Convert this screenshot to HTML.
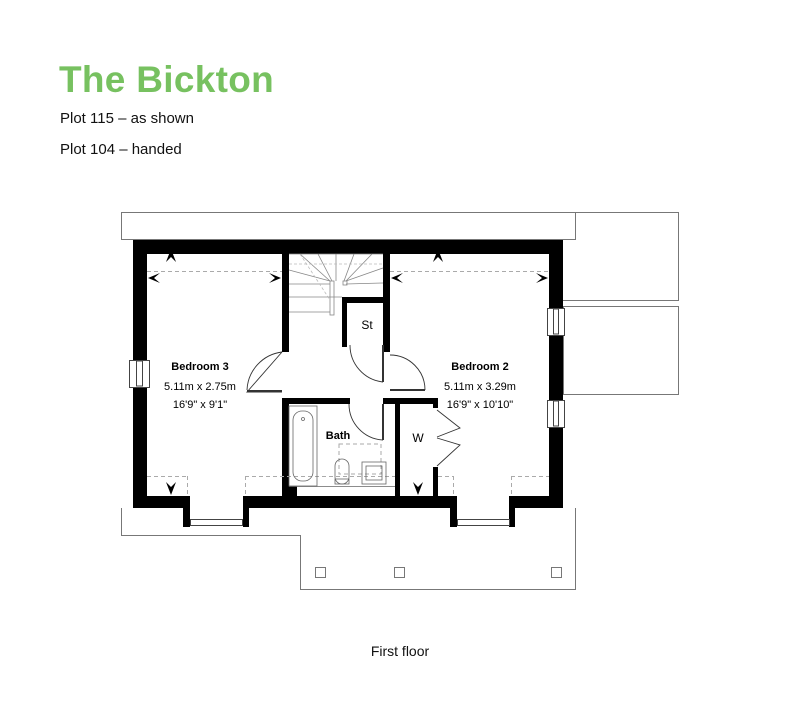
<!DOCTYPE html>
<html><head><meta charset="utf-8"><style>
html,body{margin:0;padding:0;background:#fff;}
svg{display:block;}
</style></head><body>
<svg width="800" height="725" viewBox="0 0 800 725" xmlns="http://www.w3.org/2000/svg" font-family="Liberation Sans, sans-serif">
<text x="59" y="92" font-size="37" font-weight="bold" fill="#77c160" letter-spacing="0.3">The Bickton</text>
<text x="60" y="123" font-size="15" fill="#111">Plot 115 – as shown</text>
<text x="60" y="154" font-size="15" fill="#111">Plot 104 – handed</text>

<g fill="none" stroke="#777" stroke-width="1">
<rect x="121.5" y="212.5" width="454" height="27"/>
<polyline points="575.5,212.5 678.5,212.5 678.5,300.5 563,300.5"/>
<rect x="563.5" y="306.5" width="115" height="88"/>
<polyline points="121.5,508 121.5,535.5 300.5,535.5 300.5,589.5 575.5,589.5 575.5,508"/>
<rect x="315.5" y="567.5" width="10" height="10"/>
<rect x="394.5" y="567.5" width="10" height="10"/>
<rect x="551.5" y="567.5" width="10" height="10"/>
</g>

<g fill="#000">
<rect x="133" y="240" width="430" height="14"/>
<rect x="133" y="240" width="14" height="268"/>
<rect x="549" y="240" width="14" height="268"/>
<rect x="133" y="496" width="57" height="12"/>
<rect x="243" y="496" width="214" height="12"/>
<rect x="510" y="496" width="53" height="12"/>
<rect x="183" y="496" width="7" height="31"/>
<rect x="243" y="496" width="6" height="31"/>
<rect x="450" y="496" width="7" height="31"/>
<rect x="509" y="496" width="6" height="31"/>
<rect x="282" y="240" width="7" height="112"/>
<rect x="383" y="240" width="7" height="112"/>
<rect x="342" y="297" width="48" height="6"/>
<rect x="342" y="297" width="5" height="50"/>
<rect x="282" y="398" width="7" height="98"/>
<rect x="282" y="486" width="15" height="12"/>
<rect x="282" y="398" width="68" height="6"/>
<rect x="383" y="398" width="54" height="6"/>
<rect x="395" y="404" width="5" height="94"/>
<rect x="433" y="398" width="5" height="10"/>
<rect x="433" y="467" width="5" height="30"/>
</g>

<g fill="#fff" stroke="#444" stroke-width="1">
<rect x="129.5" y="360.5" width="20" height="27"/>
<rect x="136.5" y="361" width="6" height="25"/>
<rect x="547.5" y="308.5" width="17" height="27"/>
<rect x="553.5" y="309" width="5" height="25"/>
<rect x="547.5" y="400.5" width="17" height="27"/>
<rect x="553.5" y="401" width="5" height="25"/>
<rect x="190.5" y="519.5" width="52" height="6"/>
<rect x="457.5" y="519.5" width="52" height="6"/>
</g>

<g stroke="#aaa" stroke-width="1" stroke-dasharray="4,3" fill="none">
<line x1="147" y1="271.5" x2="282" y2="271.5"/>
<line x1="390" y1="271.5" x2="549" y2="271.5"/>
<line x1="147" y1="476.5" x2="187" y2="476.5"/>
<line x1="187.5" y1="476" x2="187.5" y2="496"/>
<line x1="245" y1="476.5" x2="395" y2="476.5"/>
<line x1="245.5" y1="476" x2="245.5" y2="496"/>
<line x1="438" y1="476.5" x2="453" y2="476.5"/>
<line x1="453.5" y1="476" x2="453.5" y2="496"/>
<line x1="511" y1="476.5" x2="549" y2="476.5"/>
<line x1="511.5" y1="476" x2="511.5" y2="496"/>
<rect x="339" y="444" width="42" height="30"/>
</g>

<g fill="#000">
<polygon points="148,278 160,273 154,278 160,283"/>
<polygon points="281,278 269,273 275,278 269,283"/>
<polygon points="391,278 403,273 397,278 403,283"/>
<polygon points="548,278 536,273 542,278 536,283"/>
<polygon points="171,249 166,262 171,257 176,262"/>
<polygon points="171,495 166,482 171,487 176,482"/>
<polygon points="418,495 413,482 418,487 423,482"/>
<polygon points="438,249 433,262 438,257 443,262"/>
</g>

<g stroke="#888" stroke-width="0.8" fill="none">
<line x1="289" y1="254" x2="383" y2="254"/>
<line x1="289" y1="297" x2="342" y2="297"/>
<line x1="289" y1="284" x2="330" y2="284"/>
<line x1="289" y1="312" x2="330" y2="312"/>
<line x1="289" y1="270" x2="330" y2="281"/>
<line x1="300" y1="254" x2="330" y2="281"/>
<line x1="318" y1="254" x2="332" y2="281"/>
<line x1="336" y1="254" x2="336" y2="281"/>
<line x1="354" y1="254" x2="344" y2="281"/>
<line x1="372" y1="254" x2="346" y2="281"/>
<line x1="383" y1="268" x2="346" y2="281"/>
<line x1="383" y1="283" x2="346" y2="284"/>
<rect x="330" y="281" width="4" height="34"/>
<rect x="343" y="281" width="4" height="4"/>
</g>
<g stroke="#bbb" stroke-width="0.8" stroke-dasharray="3,2" fill="none">
<line x1="289" y1="264" x2="383" y2="264"/>
<line x1="300" y1="254" x2="330" y2="300"/>
</g>

<g stroke="#333" stroke-width="0.9" fill="none">
<path d="M282 352 L247 392 L282 392"/>
<path d="M282 352 A40 40 0 0 0 247 390"/>
<line x1="247" y1="391" x2="282" y2="391" stroke-width="2"/>
<path d="M350 345 A37 37 0 0 0 383 382"/>
<line x1="383" y1="345" x2="383" y2="382" stroke-width="2"/>
<path d="M390 355 A35 35 0 0 1 425 390"/>
<line x1="390" y1="390" x2="425" y2="390" stroke-width="2"/>
<path d="M349 404 A36 36 0 0 0 383 440"/>
<line x1="383" y1="404" x2="383" y2="440" stroke-width="2"/>
<path d="M437 410 L460 428 L437 437 M437 466 L460 445 L437 438"/>
</g>

<g stroke="#666" stroke-width="0.8" fill="none">
<rect x="289" y="406" width="28" height="80"/>
<rect x="293" y="411" width="20" height="70" rx="9"/>
<circle cx="303" cy="419" r="1.5"/>
<rect x="335" y="459" width="14" height="25" rx="7"/>
<rect x="335" y="479" width="14" height="5"/>
<rect x="362" y="462" width="24" height="22"/>
<rect x="366" y="466" width="16" height="14"/>
<line x1="289" y1="486.5" x2="395" y2="486.5"/>
</g>

<g font-size="11" fill="#000" text-anchor="middle">
<text x="200" y="370" font-weight="bold">Bedroom 3</text>
<text x="200" y="390">5.11m x 2.75m</text>
<text x="200" y="408">16'9" x 9'1"</text>
<text x="480" y="370" font-weight="bold">Bedroom 2</text>
<text x="480" y="390">5.11m x 3.29m</text>
<text x="480" y="408">16'9" x 10'10"</text>
<text x="338" y="439" font-weight="bold">Bath</text>
<text x="418" y="442" font-size="12">W</text>
<text x="367" y="329" font-size="12">St</text>
</g>
<text x="400" y="656" font-size="14" text-anchor="middle" fill="#111">First floor</text>
</svg>
</body></html>
